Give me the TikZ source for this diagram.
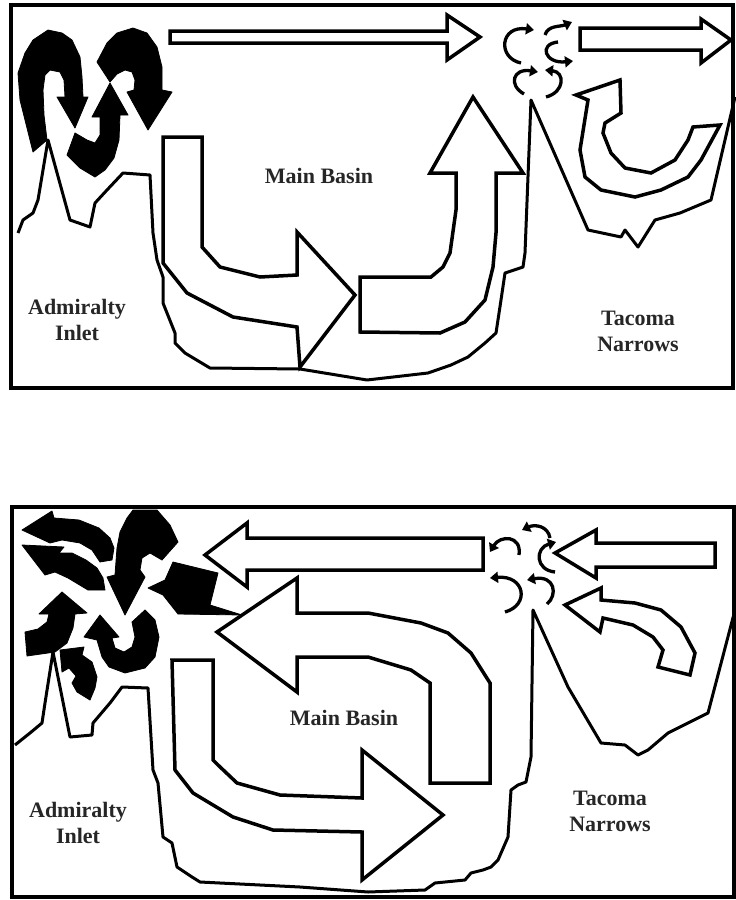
\documentclass[tikz,border=0pt]{standalone}
\usepackage{fontspec}
\setmainfont{Liberation Serif}
\usetikzlibrary{arrows.meta}
\begin{document}
\begin{tikzpicture}[x=1pt,y=-1pt,
  frame/.style={draw=black,line width=4pt},
  outl/.style={draw=black,fill=white,line width=3.5pt,line join=miter,miter limit=4},
  blk/.style={fill=black,draw=black,line width=0.8pt,line join=round},
  coast/.style={draw=black,line width=3pt,line join=round},
  vort/.style={draw=black,line width=3.3pt,-{Triangle[length=8pt,width=11pt]}},
  lbl/.style={font=\bfseries\fontsize{22}{26}\selectfont,align=center,text=black!85}]
\useasboundingbox (0,0) rectangle (736,900);
\fill[white] (0,0) rectangle (736,900);

% ================= TOP PANEL =================
\draw[frame] (11,5) rectangle (733,388);

% coastline
\draw[coast] (18,233) -- (23,220) -- (33,213) -- (38,200) -- (48,140) -- (70,220) -- (90,227)
  -- (95,203) -- (107,190) -- (123,173) -- (150,175) -- (153,233) -- (157,260) -- (163,277)
  -- (163,303) -- (175,333) -- (175,343) -- (185,353) -- (210,368) -- (300,369) -- (367,380)
  -- (428,373) -- (451,365) -- (468,357) -- (485,343) -- (496,333) -- (501,300) -- (505,273)
  -- (523,267) -- (525,253) -- (531,100) -- (588,230) -- (621,237) -- (625,230) -- (638,247)
  -- (655,220) -- (680,213) -- (711,200) -- (735,97);

% long arrows at top
\draw[outl] (170,31) -- (447,31) -- (447,15) -- (480,37) -- (447,60) -- (447,43) -- (170,43) -- cycle;
\draw[outl] (580,28) -- (701,28) -- (701,19) -- (731,40) -- (701,63) -- (701,50) -- (580,50) -- cycle;

% big U arrow to the right
\draw[outl] (163,137) -- (202,137) -- (202,247) -- (220,267) -- (260,277) -- (297,275) -- (297,232)
  -- (355,295) -- (300,367) -- (297,327) -- (233,317) -- (187,293) -- (163,263) -- cycle;

% big U arrow upward
\draw[outl] (360,277) -- (431,277) -- (443,267) -- (450,253) -- (456,210) -- (456,173) -- (430,173)
  -- (473,97) -- (523,173) -- (496,173) -- (496,233) -- (493,267) -- (485,300) -- (465,322)
  -- (440,333) -- (360,332) -- cycle;

% hook arrow (Tacoma side)
\draw[outl] (576,95) -- (620,80) -- (621,113) -- (605,123) -- (603,133) -- (611,153) -- (625,168)
  -- (651,173) -- (675,160) -- (688,140) -- (693,127) -- (720,125) -- (701,160) -- (688,177)
  -- (661,190) -- (635,197) -- (601,190) -- (585,177) -- (580,150) -- (588,100) -- cycle;

% black swirl arrows
\fill[blk] (33,152) -- (20,100) -- (18,73) -- (25,53) -- (33,40) -- (48,30) -- (62,33) -- (72,40)
  -- (80,57) -- (82,77) -- (83,97) -- (88,97) -- (75,128) -- (57,97) -- (65,97) -- (64,80)
  -- (60,72) -- (50,70) -- (45,75) -- (43,90) -- (44,115) -- (47,140) -- cycle;
\fill[blk] (97,62) -- (107,43) -- (117,33) -- (133,28) -- (147,33) -- (157,47) -- (162,67) -- (162,90)
  -- (172,92) -- (148,130) -- (127,92) -- (134,90) -- (135,80) -- (132,72) -- (125,70) -- (117,74)
  -- (110,82) -- cycle;
\fill[blk] (110,83) -- (128,115) -- (120,115) -- (119,140) -- (114,158) -- (105,170) -- (95,177)
  -- (80,168) -- (67,155) -- (75,133) -- (87,140) -- (95,143) -- (100,135) -- (100,117) -- (92,117) -- cycle;

% small eddies
\draw[vort] (521,63) .. controls (497,58) and (500,25) .. (534,30);
\draw[vort] (545,35) .. controls (548,25) and (560,27) .. (572,22);
\draw[vort] (558,42) .. controls (538,44) and (545,64) .. (573,61);
\draw[vort] (524,94) .. controls (508,85) and (513,68) .. (538,72);
\draw[vort] (546,97) .. controls (565,92) and (565,72) .. (545,70);

% labels
\node[lbl] (mb1) at (319,176) {Main Basin};
\node[lbl] (ai1) at (77,320) {Admiralty\\Inlet};
\node[lbl] (tn1) at (638,331) {Tacoma\\Narrows};

% ================= BOTTOM PANEL =================
\draw[frame] (12,507) rectangle (734,897);

\draw[coast] (15,745) -- (30,733) -- (42,723) -- (45,703) -- (53,652) -- (70,737) -- (92,735)
  -- (93,723) -- (110,703) -- (122,687) -- (148,688) -- (153,770) -- (158,783) -- (163,837)
  -- (172,843) -- (177,867) -- (192,877) -- (200,882) -- (300,887) -- (368,892) -- (425,890)
  -- (435,883) -- (465,880) -- (471,873) -- (483,870) -- (491,867) -- (498,860) -- (508,837)
  -- (511,790) -- (518,785) -- (526,782) -- (531,757) -- (533,610) -- (568,687) -- (601,743)
  -- (625,745) -- (638,755) -- (648,750) -- (668,733) -- (688,723) -- (708,713) -- (735,610);

% arrows
\draw[outl] (205,555) -- (247,523) -- (247,538) -- (483,538) -- (483,570) -- (247,570) -- (247,587) -- cycle;
\draw[outl] (555,553) -- (596,530) -- (596,543) -- (715,543) -- (715,567) -- (596,567) -- (596,578) -- cycle;
\draw[outl] (565,605) -- (601,588) -- (601,600) -- (635,603) -- (661,610) -- (681,627) -- (695,653)
  -- (690,675) -- (658,667) -- (663,650) -- (653,637) -- (633,625) -- (603,618) -- (600,632) -- cycle;
\draw[outl] (217,632) -- (297,578) -- (297,613) -- (368,613) -- (421,623) -- (448,633) -- (471,653)
  -- (490,683) -- (490,783) -- (430,783) -- (430,683) -- (411,670) -- (368,657) -- (297,657)
  -- (297,692) -- cycle;
\draw[outl] (172,660) -- (213,660) -- (213,760) -- (218,765) -- (237,783) -- (280,795) -- (362,798)
  -- (362,750) -- (443,815) -- (362,880) -- (362,832) -- (273,830) -- (233,817) -- (193,793)
  -- (175,770) -- cycle;

% black swirl cluster
\fill[blk] (22,530) -- (52,511) -- (54,518) -- (79,520) -- (99,528) -- (110,538) -- (114,548)
  -- (112,560) -- (100,562) -- (92,550) -- (80,543) -- (62,540) -- (50,543) -- cycle;
\fill[blk] (22,545) -- (64,547) -- (59,553) -- (72,553) -- (86,560) -- (97,568) -- (103,578)
  -- (105,590) -- (88,590) -- (78,584) -- (68,578) -- (55,572) -- (45,575) -- cycle;
\fill[blk] (133,510) -- (157,510) -- (170,525) -- (178,542) -- (162,560) -- (150,553) -- (142,558)
  -- (140,570) -- (145,577) -- (125,615) -- (107,577) -- (115,575) -- (117,548) -- (120,532)
  -- (127,518) -- cycle;
\fill[blk] (173,562) -- (218,573) -- (210,605) -- (242,615) -- (178,614) -- (163,595) -- (148,588)
  -- (165,580) -- cycle;
\fill[blk] (62,592) -- (87,613) -- (75,614) -- (73,628) -- (67,643) -- (55,652) -- (27,656)
  -- (25,632) -- (38,629) -- (47,622) -- (49,614) -- (39,614) -- cycle;
\fill[blk] (100,615) -- (119,637) -- (112,638) -- (115,648) -- (124,652) -- (132,647) -- (135,637)
  -- (132,622) -- (145,610) -- (155,620) -- (159,637) -- (155,657) -- (145,668) -- (125,673)
  -- (109,667) -- (102,657) -- (97,640) -- (84,637) -- cycle;
\fill[blk] (60,650) -- (84,647) -- (82,655) -- (92,662) -- (97,677) -- (95,688) -- (90,700)
  -- (77,692) -- (72,683) -- (76,676) -- (69,668) -- (62,672) -- cycle;

% small eddies
\draw[vort] (519,555) .. controls (522,535) and (500,535) .. (490,552);
\draw[vort] (550,538) .. controls (548,526) and (535,524) .. (522,530);
\draw[vort] (555,572) .. controls (535,570) and (535,548) .. (556,542);
\draw[vort] (505,612) .. controls (530,605) and (525,575) .. (490,578);
\draw[vort] (547,604) .. controls (558,595) and (555,575) .. (527,580);

% labels
\node[lbl] (mb2) at (344,718) {Main Basin};
\node[lbl] (ai2) at (78,823) {Admiralty\\Inlet};
\node[lbl] (tn2) at (610,811) {Tacoma\\Narrows};
\end{tikzpicture}
\end{document}
